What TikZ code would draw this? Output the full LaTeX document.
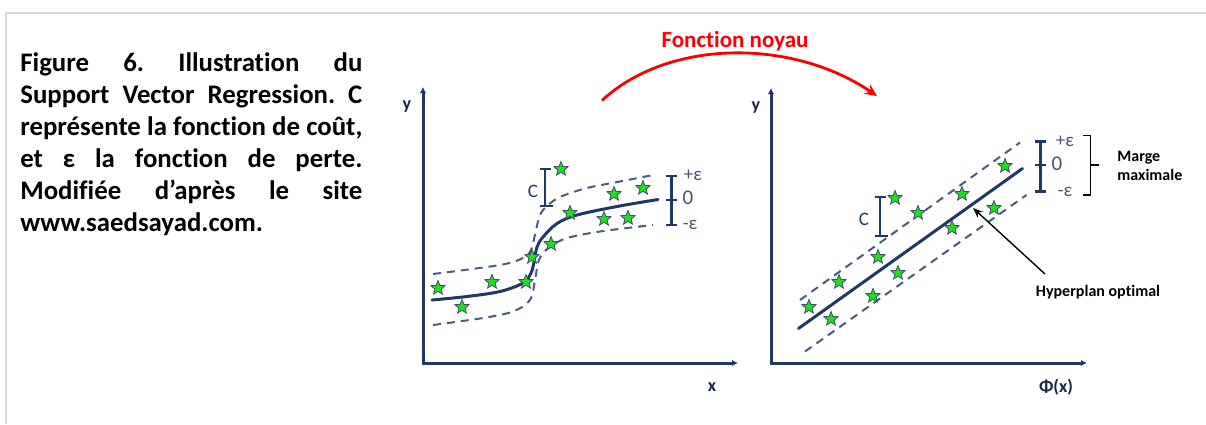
\documentclass[tikz,border=0pt]{standalone}
\usepackage{fontspec}
\setmainfont{Carlito}[Ligatures=CommonOff]
\usepackage{tikz}
\usetikzlibrary{arrows.meta,shapes.geometric}
\definecolor{svrnavy}{RGB}{31,56,100}
\definecolor{svrdash}{RGB}{72,92,124}
\definecolor{svrlab}{RGB}{68,84,106}
\definecolor{svrred}{RGB}{250,0,0}
\definecolor{svrgreen}{RGB}{30,225,30}
\definecolor{svredge}{RGB}{60,78,100}
\definecolor{svrframe}{RGB}{217,217,217}
\tikzset{
  axis/.style={draw=svrnavy, line width=1.5pt, {Latex[length=3pt,width=3.2pt]}-{Latex[length=3pt,width=3.2pt]}},
  fitline/.style={draw=svrnavy, line width=1.5pt, line cap=round},
  tube/.style={draw=svrdash, line width=1pt, dash pattern=on 4pt off 3pt},
  brk/.style={draw=svrnavy, line width=1.3pt},
  pt/.style={star, star points=5, star point ratio=2.3, minimum size=7.5pt,
    inner sep=0pt, fill=svrgreen, draw=svredge, line width=0.4pt},
  lab/.style={font=\fontsize{9.5}{10}\selectfont, text=svrlab, inner sep=0pt},
  axlab/.style={font=\fontsize{9}{10}\selectfont\bfseries, text=svrnavy!70!black, inner sep=0pt},
  note/.style={font=\fontsize{8}{9.7}\selectfont\bfseries, align=left, inner sep=0pt},
  arr/.style={-{Stealth[length=5pt,width=4pt]}, draw=black, line width=0.7pt},
  kern/.style={-{Stealth[length=6pt,width=5.5pt,inset=2pt]}, draw=svrred, line width=1.4pt}
}
\begin{document}
\frenchspacing
\begin{tikzpicture}[x=0.5pt,y=-0.5pt]
  \useasboundingbox (0,0) rectangle (1206,424);
  \draw[svrframe, line width=0.8pt] (6,424) -- (6,13) -- (1206,13);
  \node[anchor=north west, inner sep=0pt, text width=171pt, align=justify,
    font=\fontsize{13.4}{16}\selectfont\bfseries\frenchspacing] (cap) at (20,52)
    {Figure 6. Illustration du\linebreak Support Vector Regression. C\linebreak
     représente la fonction de coût,\linebreak et ε la fonction de perte.\linebreak
     Modifiée d’après le site\linebreak www.saedsayad.com.};
  \coordinate (yt1) at (423,87);
  \coordinate (o1) at (423,363);
  \coordinate (xe1) at (738,363);
  \coordinate (yt2) at (771,88);
  \coordinate (o2) at (771,363);
  \coordinate (xe2) at (1087,363);
  \draw[axis] (yt1) -- (o1) -- (xe1);
  \draw[axis] (yt2) -- (o2) -- (xe2);
  \node[axlab] (y1) at (407,107) {y};
  \node[axlab] (x1) at (712,387) {x};
  \node[axlab] (y2) at (756,108) {y};
  \node[axlab] (x2) at (1056,387) {Φ(x)};
  \draw[tube] plot[smooth, tension=0.55] coordinates {(433,274) (500,265) (523,258) (531,250) (536,230) (540,215) (547,206) (560,197) (587,188) (620,181.5) (653,175)};
  \draw[tube] plot[smooth, tension=0.55] coordinates {(433,325) (483,318) (513,311.5) (530,300) (535,280) (538,263) (543,253) (553,245) (567,238) (600,231.5) (653,225)};
  \draw[fitline] plot[smooth, tension=0.55] coordinates {(432,300) (467,296.5) (500,291.5) (523,283) (531,273) (534,262) (537,247) (543,237) (557,223.5) (577,215) (617,206.5) (658,199.5)};
  \foreach \px/\py [count=\i] in {438/288, 462/307, 492/282, 526/282, 532/257, 551/244,
      570/213, 561/169, 614/194, 643/188, 604/219, 628/218}
    \node[pt] (l\i) at (\px,\py) {};
  \draw[brk] (545,169) -- (545,206) (540,169) -- (551,169) (540,206) -- (553,206);
  \node[lab, text=svrnavy] (c1) at (533,191) {C};
  \draw[brk] (671.5,176) -- (671.5,225) (666,176) -- (677,176) (666,225) -- (677,225)
    (666,200) -- (677,200);
  \node[lab] (pe1) at (693,175) {+ε};
  \node[lab, font=\fontsize{10.5}{11}\selectfont] (z1) at (688,198) {0};
  \node[lab] (me1) at (690,225) {-ε};
  \coordinate (ua) at (800,300);
  \coordinate (ub) at (1020,142.5);
  \coordinate (la) at (805,351.5);
  \coordinate (lb) at (1026.5,195);
  \coordinate (ha) at (798.5,328.5);
  \coordinate (hb) at (1022.5,168.5);
  \draw[tube] (ua) -- (ub);
  \draw[tube] (la) -- (lb);
  \draw[fitline] (ha) -- (hb);
  \foreach \px/\py [count=\i] in {809/307, 839/282, 831/319, 873/296, 878/257, 898/273,
      895/198, 918/213, 952/228, 962/194, 994/208, 1005/166}
    \node[pt] (r\i) at (\px,\py) {};
  \draw[brk] (880,197) -- (880,236) (875,197) -- (886,197) (875,236) -- (888,236);
  \node[lab, text=svrnavy] (c2) at (864,219) {C};
  \draw[brk] (1040.5,141.5) -- (1040.5,191.5) (1035,141.5) -- (1046,141.5)
    (1035,191.5) -- (1046,191.5) (1035,165) -- (1046,165);
  \node[lab] (pe2) at (1065,141) {+ε};
  \node[lab, font=\fontsize{10.5}{11}\selectfont] (z2) at (1057,164) {0};
  \node[lab] (me2) at (1065,191.5) {-ε};
  \draw[black, line width=0.7pt] (1083,135.5) -- (1090.5,135.5) -- (1090.5,195) -- (1083,195)
    (1090.5,165) -- (1099,165);
  \node[note, anchor=west] (marge) at (1117,166) {Marge\\maximale};
  \node[note] (hyp) at (1098,292) {Hyperplan optimal};
  \coordinate (hs) at (1045,274);
  \coordinate (ht) at (973,208);
  \draw[arr] (hs) -- (ht);
  \node[font=\fontsize{11.5}{12}\selectfont\bfseries, text=svrred, inner sep=0pt] (kname) at (735,41) {Fonction noyau};
  \coordinate (k1) at (602,100.5);
  \coordinate (k2) at (877,96);
  \draw[kern] (k1) .. controls (668,39) and (792,38) .. (k2);
\end{tikzpicture}
\end{document}
